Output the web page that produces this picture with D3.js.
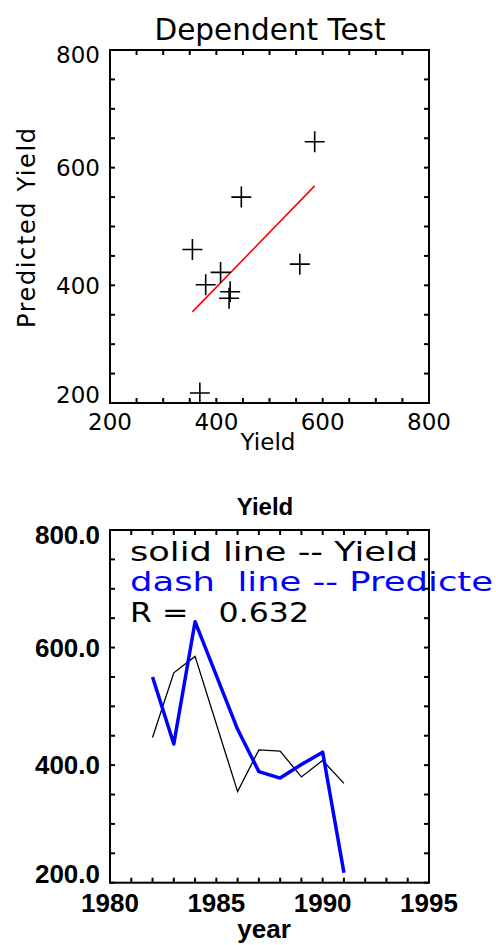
<!DOCTYPE html>
<meta charset="utf-8">
<style>
    html, body {
        margin: 0;
        padding: 0;
        background: #fff;
    }
</style>
<!-- Load d3.js -->
<script src="https://d3js.org/d3.v7.min.js"></script>

<div id="chart"></div>

<script>

    // data (1985 is missing in the source)
    const years     = [1982, 1983, 1984, 1986, 1987, 1988, 1989, 1990, 1991];
    const yieldVals = [447, 557, 585, 355, 426, 424, 380, 408, 369];
    const predicted = [550, 436, 644, 461, 389, 378, 401, 422, 217];

    const scatterTicks = [200, 400, 600, 800];
    const yearTicks    = [1980, 1985, 1990, 1995];
    const yieldTicks   = [200, 400, 600, 800];

    const legendLines = ["solid line -- Yield", "dash  line -- Predicte", "R =   0.632"];

    const W = 496, H = 945;
    const thin = "DejaVu Sans, sans-serif";
    const bold = "Liberation Sans, Arial, sans-serif";

    const svg = d3.select("#chart")
      .append("svg")
        .attr("width", W)
        .attr("height", H);

    // box of each panel
    const box1 = {left: 110, right: 429, top: 50, bottom: 403};
    const box2 = {left: 110, right: 429, top: 530, bottom: 882.7};

    // frame with inward ticks on all four sides
    function frame(b, x, y, xMinor, yMinor) {
      const g = svg.append("g");
      g.append("rect")
        .attr("x", b.left).attr("y", b.top)
        .attr("width", b.right - b.left).attr("height", b.bottom - b.top)
        .attr("fill", "none").attr("stroke", "#000").attr("stroke-width", 2);
      const len = 5;
      xMinor.forEach(v => {
        g.append("line").attr("x1", x(v)).attr("x2", x(v)).attr("y1", b.bottom).attr("y2", b.bottom - len)
          .attr("stroke", "#000").attr("stroke-width", 2);
        g.append("line").attr("x1", x(v)).attr("x2", x(v)).attr("y1", b.top).attr("y2", b.top + len)
          .attr("stroke", "#000").attr("stroke-width", 2);
      });
      yMinor.forEach(v => {
        g.append("line").attr("y1", y(v)).attr("y2", y(v)).attr("x1", b.left).attr("x2", b.left + len)
          .attr("stroke", "#000").attr("stroke-width", 2);
        g.append("line").attr("y1", y(v)).attr("y2", y(v)).attr("x1", b.right).attr("x2", b.right - len)
          .attr("stroke", "#000").attr("stroke-width", 2);
      });
    }

    // ---------- top panel : scatter ----------
    const x1 = d3.scaleLinear().domain([200, 800]).range([box1.left, box1.right]);
    const y1 = d3.scaleLinear().domain([200, 800]).range([box1.bottom, box1.top]);

    frame(box1, x1, y1, d3.range(200, 801, 50), d3.range(200, 801, 50));

    svg.append("text")
      .attr("x", 270).attr("y", 40)
      .attr("text-anchor", "middle")
      .style("font-family", thin).style("font-size", "29.5px")
      .text("Dependent Test");

    svg.selectAll(".x1lab").data(scatterTicks).join("text")
      .attr("x", d => x1(d)).attr("y", 430)
      .attr("text-anchor", "middle")
      .style("font-family", thin).style("font-size", "23px")
      .text(d => d);

    svg.selectAll(".y1lab").data(scatterTicks).join("text")
      .attr("x", 100)
      .attr("y", d => Math.max(box1.top + 5, Math.min(box1.bottom - 8, y1(d))) + 8.4)
      .attr("text-anchor", "end")
      .style("font-family", thin).style("font-size", "23px")
      .text(d => d);

    svg.append("text")
      .attr("x", 268).attr("y", 450)
      .attr("text-anchor", "middle")
      .style("font-family", thin).style("font-size", "23px")
      .text("Yield");

    svg.append("text")
      .attr("transform", "translate(35,228) rotate(-90)")
      .attr("text-anchor", "middle")
      .attr("textLength", 200)
      .style("font-family", thin).style("font-size", "24px")
      .text("Predicted Yield");

    // regression line of predicted on yield
    const pairs = yieldVals.map((v, i) => [v, predicted[i]]);
    const mx = d3.mean(yieldVals), my = d3.mean(predicted);
    const slope = d3.sum(pairs, p => (p[0] - mx) * (p[1] - my)) / d3.sum(pairs, p => (p[0] - mx) ** 2);
    const [xmin, xmax] = d3.extent(yieldVals);
    svg.append("line")
      .attr("x1", x1(xmin)).attr("y1", y1(my + slope * (xmin - mx)))
      .attr("x2", x1(xmax)).attr("y2", y1(my + slope * (xmax - mx)))
      .attr("stroke", "#ff0000").attr("stroke-width", 1.6);

    // plus markers
    svg.selectAll(".cross").data(pairs).join("path")
      .attr("d", p => {
        const cx = x1(p[0]), cy = y1(p[1]);
        return `M${cx - 10},${cy}H${cx + 10}M${cx},${cy - 10.5}V${cy + 10.5}`;
      })
      .attr("stroke", "#000").attr("stroke-width", 1.6).attr("fill", "none");

    // ---------- bottom panel : time series ----------
    const x2 = d3.scaleLinear().domain([1980, 1995]).range([box2.left, box2.right]);
    const y2 = d3.scaleLinear().domain([200, 800]).range([box2.bottom, box2.top]);

    frame(box2, x2, y2, d3.range(1980, 1996, 1), d3.range(200, 801, 50));

    svg.append("text")
      .attr("x", 265).attr("y", 515)
      .attr("text-anchor", "middle")
      .style("font-family", bold).style("font-weight", "bold").style("font-size", "24px")
      .text("Yield");

    svg.selectAll(".x2lab").data(yearTicks).join("text")
      .attr("x", d => x2(d)).attr("y", 912)
      .attr("text-anchor", "middle")
      .style("font-family", bold).style("font-weight", "bold").style("font-size", "26px")
      .text(d => d);

    svg.selectAll(".y2lab").data(yieldTicks).join("text")
      .attr("x", 100)
      .attr("y", d => Math.max(box2.top + 5, Math.min(box2.bottom - 9, y2(d))) + 9.3)
      .attr("text-anchor", "end")
      .style("font-family", bold).style("font-weight", "bold").style("font-size", "26px")
      .text(d => d3.format(".1f")(d));

    svg.append("text")
      .attr("x", 264).attr("y", 938)
      .attr("text-anchor", "middle")
      .style("font-family", bold).style("font-weight", "bold").style("font-size", "26px")
      .text("year");

    const line = d3.line().x(d => x2(d[0])).y(d => y2(d[1]));

    svg.append("path")
      .datum(years.map((yr, i) => [yr, yieldVals[i]]))
      .attr("d", line)
      .attr("fill", "none").attr("stroke", "#000").attr("stroke-width", 1.3);

    svg.append("path")
      .datum(years.map((yr, i) => [yr, predicted[i]]))
      .attr("d", line)
      .attr("fill", "none").attr("stroke", "#0000ff").attr("stroke-width", 3.5)
      .attr("stroke-linejoin", "round");

    // legend text written inside the frame
    const legendY = [561, 591, 622];
    const legendW = [288, 363, 179];
    const legendC = ["#000", "#0000ff", "#000"];
    legendLines.forEach((t, i) => {
      svg.append("text")
        .attr("x", 130).attr("y", legendY[i])
        .attr("textLength", legendW[i])
        .attr("lengthAdjust", "spacingAndGlyphs")
        .style("white-space", "pre")
        .style("font-family", thin).style("font-size", "26px")
        .attr("fill", legendC[i])
        .text(t);
    });

</script>
